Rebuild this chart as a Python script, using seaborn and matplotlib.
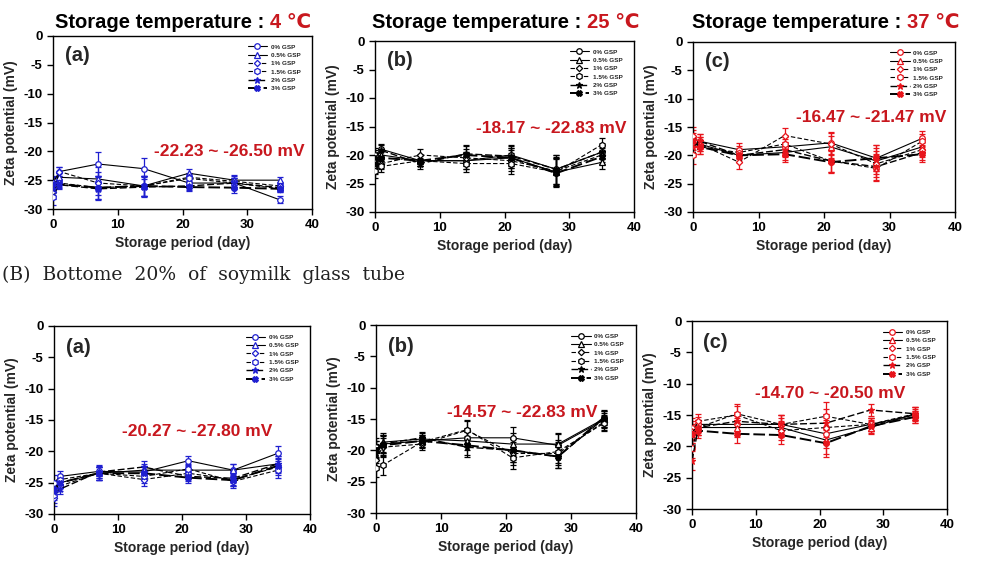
import matplotlib
matplotlib.use("Agg")
import matplotlib.pyplot as plt
import seaborn as sns
import pandas as pd

# ---------------- data ----------------
days = [0, 1, 7, 14, 21, 28, 35]
series_labels = ["0% GSP", "0.5% GSP", "1% GSP", "1.5% GSP", "2% GSP", "3% GSP"]

# (A) top row, storage 4 / 25 / 37 degC  (rows: 0, 0.5, 1, 1.5, 2, 3 % GSP)
top_4c = [
    [-25.5, -23.5, -22.2, -23.0, -25.5, -25.5, -28.4],
    [-26.0, -24.5, -24.8, -26.0, -23.8, -25.0, -25.0],
    [-27.0, -23.5, -25.5, -26.0, -24.5, -25.2, -26.0],
    [-28.0, -25.5, -26.3, -26.0, -24.7, -25.5, -26.5],
    [-26.5, -25.8, -26.5, -26.2, -26.0, -25.5, -26.3],
    [-25.7, -25.7, -26.3, -26.0, -26.2, -26.3, -26.5],
]
top_25c = [
    [-20.0, -19.0, -21.0, -21.0, -20.0, -22.5, -19.5],
    [-21.0, -20.0, -21.0, -21.0, -20.5, -23.0, -21.3],
    [-22.0, -21.5, -20.0, -20.5, -21.0, -22.8, -20.0],
    [-22.8, -22.0, -21.0, -21.5, -21.5, -23.0, -18.2],
    [-20.5, -19.2, -21.5, -19.8, -20.2, -22.5, -19.5],
    [-21.5, -20.5, -21.0, -20.0, -20.5, -23.2, -20.3],
]
top_37c = [
    [-17.0, -17.5, -19.0, -18.5, -17.8, -20.5, -17.0],
    [-18.0, -18.0, -20.0, -19.5, -18.5, -21.0, -18.5],
    [-16.5, -18.0, -21.2, -16.5, -18.0, -21.5, -19.0],
    [-20.0, -18.5, -19.5, -18.0, -21.0, -22.3, -17.5],
    [-18.5, -17.5, -20.0, -19.0, -21.0, -22.0, -19.5],
    [-17.5, -18.5, -20.0, -19.8, -21.2, -20.5, -19.8],
]
# (B) bottom 20% of soymilk glass tube
bot_4c = [
    [-25.0, -24.0, -23.2, -23.3, -21.5, -23.0, -20.3],
    [-26.0, -25.0, -23.5, -23.0, -23.0, -23.0, -22.0],
    [-27.5, -25.5, -23.5, -24.5, -23.5, -24.5, -22.5],
    [-27.0, -24.5, -23.5, -24.0, -22.8, -24.8, -23.0],
    [-26.5, -26.0, -23.3, -22.5, -24.0, -24.3, -22.0],
    [-26.0, -25.0, -23.5, -23.5, -24.2, -24.6, -22.3],
]
bot_25c = [
    [-19.5, -19.0, -18.5, -18.0, -18.0, -19.2, -15.2],
    [-20.0, -18.7, -18.2, -18.5, -19.0, -19.0, -15.0],
    [-21.5, -19.5, -19.0, -16.8, -20.5, -20.5, -15.5],
    [-22.8, -22.4, -18.7, -16.7, -21.2, -20.2, -15.7],
    [-20.5, -19.0, -18.0, -19.5, -20.0, -21.0, -15.0],
    [-20.0, -19.2, -18.5, -19.2, -20.0, -21.0, -14.8],
]
bot_37c = [
    [-17.0, -16.5, -16.5, -16.5, -18.0, -16.5, -15.0],
    [-17.5, -17.0, -17.0, -17.0, -19.0, -17.0, -14.8],
    [-18.0, -16.0, -15.0, -17.5, -17.0, -16.5, -15.3],
    [-20.3, -17.0, -14.8, -16.5, -15.2, -16.5, -14.8],
    [-22.3, -17.0, -16.0, -16.5, -16.3, -14.2, -14.8],
    [-18.0, -17.5, -18.0, -18.2, -19.5, -16.8, -15.3],
]
# approximate error-bar half widths per day
err_top_4c = [1.3, 0.7, 2.0, 1.8, 0.7, 0.9, 0.6]
err_top_25c = [1.3, 1.0, 1.0, 1.5, 1.8, 2.5, 1.2]
err_top_37c = [1.5, 1.2, 1.2, 1.3, 2.0, 2.3, 1.3]
err_bot_4c = [1.2, 0.8, 1.0, 1.0, 0.8, 1.0, 1.2]
err_bot_25c = [1.5, 1.5, 1.0, 1.5, 1.8, 1.8, 1.2]
err_bot_37c = [1.5, 1.2, 1.5, 1.5, 2.2, 1.0, 1.0]

range_texts = ["-22.23 ~ -26.50 mV", "-18.17 ~ -22.83 mV", "-16.47 ~ -21.47 mV",
               "-20.27 ~ -27.80 mV", "-14.57 ~ -22.83 mV", "-14.70 ~ -20.50 mV"]
temp_texts = ["4 \u2103", "25 \u2103", "37 \u2103"]
panel_letters = ["(a)", "(b)", "(c)", "(a)", "(b)", "(c)"]
section_b_text = "(B)  Bottome  20%  of  soymilk  glass  tube"
yticks = [0, -5, -10, -15, -20, -25, -30]
xticks = [0, 10, 20, 30, 40]

# ---------------- style ----------------
sns.set_style("ticks")
plt.rcParams['font.family'] = ['Liberation Sans', 'DejaVu Sans']
plt.rcParams['font.weight'] = 'bold'
plt.rcParams['axes.labelweight'] = 'bold'
plt.rcParams['axes.unicode_minus'] = False

W, H = 1005, 563
fig = plt.figure(figsize=(W / 100, H / 100), dpi=100)

def frac(l, t, r, b):
    return [l / W, 1 - b / H, (r - l) / W, (b - t) / H]

boxes = [frac(53, 36, 312, 209), frac(375, 41, 634, 212), frac(693, 42, 955, 212),
         frac(54, 326, 310, 514), frac(376, 325, 636, 513), frac(692, 321, 947, 509)]
panels = [top_4c, top_25c, top_37c, bot_4c, bot_25c, bot_37c]
errs = [err_top_4c, err_top_25c, err_top_37c, err_bot_4c, err_bot_25c, err_bot_37c]
mcolors = ["#1f1fd0", "black", "#e8141b", "#1f1fd0", "black", "#e8141b"]
text_pos = [(27.2, -20.1), (27.2, -15.3), (27.2, -13.4), (22.3, -16.9), (22.5, -13.9), (21.6, -11.5)]
red_text = "#c8171e"

styles = [
    dict(marker='o', linestyle='-', filled=False, ms=4.0, lw=0.8),
    dict(marker='^', linestyle='-', filled=False, ms=4.0, lw=0.8),
    dict(marker='D', linestyle=(0, (4, 2)), filled=False, ms=3.2, lw=0.8),
    dict(marker='h', linestyle=(0, (4, 2)), filled=False, ms=4.5, lw=0.8),
    dict(marker='*', linestyle=(0, (5, 2)), filled=True, ms=5.0, lw=1.0),
    dict(marker='X', linestyle=(0, (6, 2)), filled=True, ms=4.0, lw=1.4),
]

for k in range(6):
    ax = fig.add_axes(boxes[k])
    mc = mcolors[k]
    rows = []
    for s_lab, vals in zip(series_labels, panels[k]):
        for d, v in zip(days, vals):
            rows.append(dict(day=d, zeta=v, series=s_lab))
    df = pd.DataFrame(rows)
    for i, s_lab in enumerate(series_labels):
        st = styles[i]
        sub = df[df.series == s_lab]
        ax.errorbar(sub.day, sub.zeta, yerr=errs[k], fmt='none', ecolor=mc,
                    elinewidth=0.9, capsize=2.2, capthick=0.9, zorder=2)
        sns.lineplot(data=sub, x='day', y='zeta', ax=ax, color='black',
                     linestyle=st['linestyle'], lw=st['lw'], marker=st['marker'],
                     markersize=st['ms'], markeredgecolor=mc,
                     markerfacecolor=(mc if st['filled'] else 'white'),
                     markeredgewidth=0.9, errorbar=None, label=s_lab, zorder=3)
    ax.set_xlim(0, 40)
    ax.set_ylim(-30, 0)
    ax.set_xticks(xticks)
    ax.set_yticks(yticks)
    ax.tick_params(labelsize=9.5, length=4, width=1, direction='out', colors='black')
    for sp in ax.spines.values():
        sp.set_linewidth(1.0)
        sp.set_color('black')
    ax.set_xlabel("Storage period (day)", fontsize=10, labelpad=3)
    ax.set_ylabel("Zeta potential (mV)", fontsize=10, labelpad=4)
    ax.legend(loc='upper right', bbox_to_anchor=(0.97, 0.975), fontsize=4.6,
              frameon=False, handlelength=3.0, labelspacing=0.45, handletextpad=0.6,
              borderaxespad=0.2)
    ax.text(0.045, 0.885, panel_letters[k], transform=ax.transAxes, fontsize=14.5,
            fontweight='bold', va='center', ha='left')
    tx, ty = text_pos[k]
    ax.text(tx, ty, range_texts[k], color=red_text, fontsize=12.5, fontweight='bold',
            ha='center', va='center')

# titles for top row
title_x = [55, 372, 692]
for j in range(3):
    t = fig.text(title_x[j] / W, 1 - 22 / H, "Storage temperature : ", fontsize=14.5,
                 fontweight='bold', color='black', ha='left', va='center')
    plt.annotate(temp_texts[j], xy=(1, 0.5), xycoords=t, xytext=(0, 0),
                 textcoords='offset points', fontsize=14.5, fontweight='bold',
                 color=red_text, ha='left', va='center')

fig.text(2 / W, 1 - 275 / H, section_b_text, fontsize=13.5, fontweight='normal',
         family=['DejaVu Serif'], ha='left', va='center', color='#222222')

fig.savefig("out.png", dpi=100)
